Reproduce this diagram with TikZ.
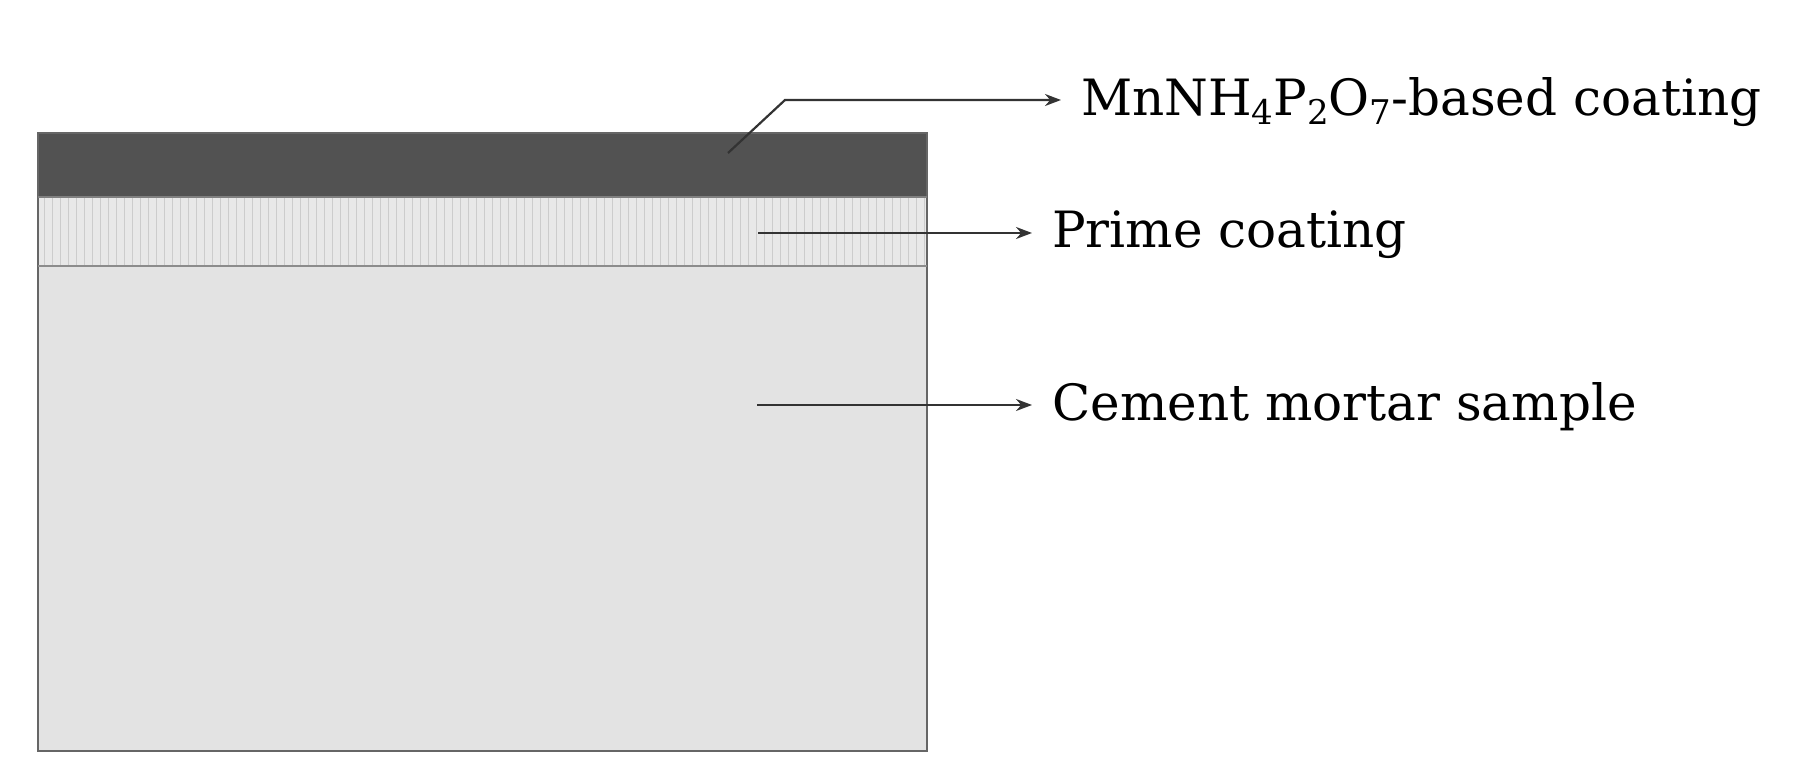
\documentclass[tikz,border=0pt]{standalone}
\usepackage{fontspec}
\setmainfont{DejaVu Serif}
\usetikzlibrary{arrows.meta}
\newcommand{\sbs}[1]{\raisebox{-9pt}{\fontsize{34}{34}\selectfont #1}}
\begin{document}
\begin{tikzpicture}[x=1pt,y=-1pt,
  lbl/.style={anchor=west,inner sep=0pt,font=\fontsize{50}{60}\selectfont},
  lead/.style={draw=black!80,line width=2.2pt,-{Stealth[length=16pt,width=12pt]}}]
\useasboundingbox (0,0) rectangle (1813,783);
\fill[black!68] (38,133) rectangle (927,197);
\fill[black!9] (38,197) rectangle (927,266);
\foreach \x in {44,52,...,924} \draw[black!20,line width=1pt] (\x,198) -- (\x,265);
\fill[black!11] (38,266) rectangle (927,751);
\draw[black!60,line width=1.5pt] (38,133) rectangle (927,751);
\draw[black!50,line width=2pt] (38,197) -- (927,197);
\draw[black!45,line width=2.5pt] (38,266) -- (927,266);
\coordinate (t1) at (728,153);
\coordinate (k1) at (785,100);
\coordinate (t2) at (758,233);
\coordinate (t3) at (757,405);
\node[lbl] (a) at (1081,102) {MnNH\sbs{4}P\sbs{2}O\sbs{7}-based coating};
\node[lbl] (b) at (1052,235) {Prime coating};
\node[lbl] (c) at (1052,407) {Cement mortar sample};
\draw[lead] (t1) -- (k1) -- ([xshift=-20pt]a.west|-k1);
\draw[lead] (t2) -- ([xshift=-20pt]b.west|-t2);
\draw[lead] (t3) -- ([xshift=-20pt]c.west|-t3);
\end{tikzpicture}
\end{document}
